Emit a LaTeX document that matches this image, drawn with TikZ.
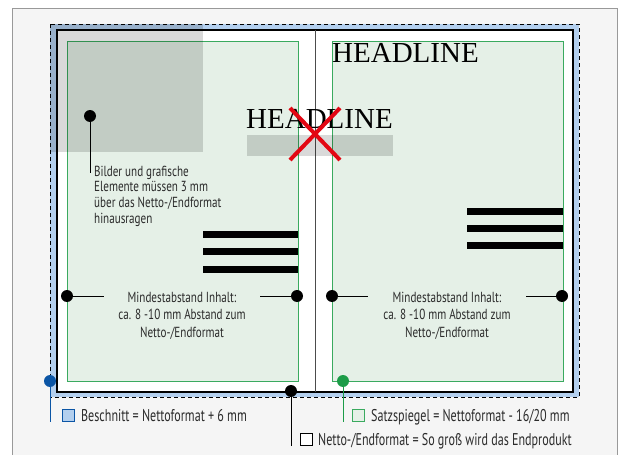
\documentclass[tikz,border=0pt]{standalone}
\usepackage{fontspec}
\setmainfont{Liberation Serif}
\newfontfamily\condfont[FakeStretch=0.76]{PT Sans}
\newfontfamily\condkey[FakeStretch=0.71]{PT Sans}
\usepackage{xcolor}
\usepackage{tikz}
\usetikzlibrary{positioning,calc}
\definecolor{panel}{HTML}{F5F5F5}
\definecolor{bleedblue}{HTML}{B3CFEE}
\definecolor{markblue}{HTML}{0B55A5}
\definecolor{typegreen}{HTML}{3AAA5F}
\definecolor{typefill}{HTML}{E5F0E7}
\definecolor{markgreen}{HTML}{1C9C48}
\definecolor{crossred}{HTML}{E30613}
\definecolor{ink}{HTML}{2B2B2B}

\tikzset{
  dot/.style={circle,fill=#1,inner sep=0pt,minimum size=12pt},
  dot/.default=black,
  note/.style={font=\condfont\fontsize{14.6}{15.7}\selectfont,text=ink,inner sep=0pt},
  legend/.style={font=\condkey\fontsize{17}{18}\selectfont,text=ink,inner sep=0pt,anchor=base west},
  swatch/.style={draw=#1,minimum size=12pt,inner sep=0pt,line width=0.8pt},
  headline/.style={font=\fontsize{29}{29}\selectfont,inner sep=0pt,anchor=base west},
  textbar/.style={line width=7pt},
  shade/.style={black,opacity=0.15}
}

\begin{document}
\begin{tikzpicture}[x=1pt,y=-1pt]
        \useasboundingbox (0,0) rectangle (625,455);
        \fill[panel] (12,8) rectangle (617,455);
        \draw[black!40] (12,455) |- (617,8) -- (617,455);
        % Beschnitt, Netto, Satzspiegel
        \filldraw[fill=bleedblue,line width=1pt,dash pattern=on 4pt off 3pt] (50,24) rectangle (579,397);
        \filldraw[fill=white,line width=1.5pt] (57,30) rectangle (573,392);
        \draw[black!70] (315,30) -- (315,392);
        \filldraw[fill=typefill,draw=typegreen] (67,41) rectangle (298,381);
        \filldraw[fill=typefill,draw=typegreen] (332,41) rectangle (563,381);
        \fill[shade] (50,24) rectangle (203,152);
        \node[headline] (headL) at (246,128) {HEADLINE};
        \fill[shade] (247,135) rectangle (393,156);
        \draw[crossred,line width=4pt] (290,108) -- (340,160) (340,108) -- (290,160);
        \node[headline] (headR) at (332,63) {HEADLINE};
        \foreach \y in {234,251.5,269} \draw[textbar] (203,\y) -- (298,\y);
        \foreach \y in {211,228,245} \draw[textbar] (467,\y) -- (563,\y);
        % Hinweise
        \node[dot] (imgdot) at (90,116) {};
        \node[note,anchor=north west,align=left] (imgnote) at (94,165.5)
          {Bilder und grafische\\Elemente müssen 3 mm\\über das Netto-/Endformat\\hinausragen};
        \coordinate (imgend) at (90,173);
        \draw[thick] (imgdot) -- (imgend);
        \node[note,anchor=north,align=center] (minL) at (182,291.5)
          {Mindestabstand Inhalt:\\[2pt]ca. 8 -10 mm Abstand zum\\[2pt]Netto-/Endformat};
        \node[note,anchor=north,align=center] (minR) at (447,291.5)
          {Mindestabstand Inhalt:\\[2pt]ca. 8 -10 mm Abstand zum\\[2pt]Netto-/Endformat};
        \node[dot] (minLa) at (67,296) {};
        \node[dot] (minLb) at (297,296) {};
        \node[dot] (minRa) at (332,296) {};
        \node[dot] (minRb) at (562,296) {};
        \coordinate (minLa') at (104,296); \coordinate (minLb') at (260,296);
        \coordinate (minRa') at (368,296); \coordinate (minRb') at (526,296);
        \draw[thick] (minLa) -- (minLa') (minLb) -- (minLb') (minRa) -- (minRa') (minRb) -- (minRb');
        % Legende
        \node[dot=markblue] (bleeddot) at (50,381) {};
        \coordinate (bleedend) at (50,422);
        \draw[markblue,thick] (bleeddot) -- (bleedend);
        \node[swatch=markblue,fill=bleedblue] (bleedkey) at (68.5,415.5) {};
        \node[legend] (bleedtxt) at (81,421.5) {Beschnitt = Nettoformat + 6 mm};
        \node[dot=markgreen] (typedot) at (343,381) {};
        \coordinate (typeend) at (343,422);
        \draw[markgreen,thick] (typedot) -- (typeend);
        \node[swatch=typegreen,fill=typefill] (typekey) at (358,415.5) {};
        \node[legend] (typetxt) at (371,421.5) {Satzspiegel = Nettoformat - 16/20 mm};
        \node[dot] (netdot) at (291,391) {};
        \coordinate (netend) at (291,446);
        \draw[thick] (netdot) -- (netend);
        \node[swatch=black,fill=white] (netkey) at (306.5,439.5) {};
        \node[legend] (nettxt) at (318,445) {Netto-/Endformat = So groß wird das Endprodukt};
      \end{tikzpicture}
\end{document}
